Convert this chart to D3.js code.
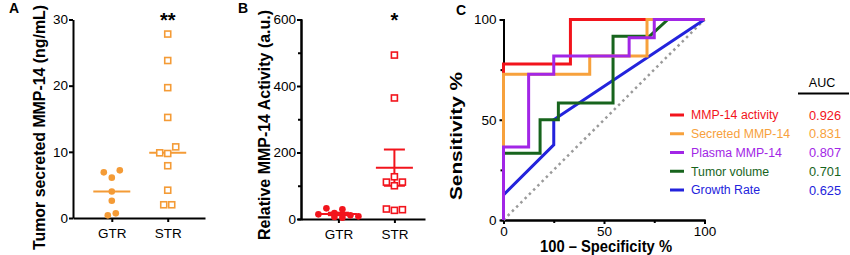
<!DOCTYPE html>
<html>
<head>
<meta charset="utf-8">
<script src="https://cdn.jsdelivr.net/npm/d3@7"></script>
<style>
    body { margin: 0; background: #fff; }
    svg { display: block; font-family: 'Liberation Sans', Arial, sans-serif; }
</style>
</head>
<body>
<svg id="chart" width="850" height="255"></svg>
<script>
// ---- data ----
const groups = ['GTR', 'STR']

// A: tumor secreted MMP-14 (ng/mL)
const secretedGTR = [6.9, 6.1, 7.2, 4.0, 2.6, 0.4, 0.7]
const secretedSTR = [27.8, 23.8, 19.7, 15.2, 9.85, 9.75, 10.75, 7.9, 4.2, 2.0, 2.0]
const secretedTicks = [0, 10, 20, 30]

// B: relative MMP-14 activity (a.u.)
const activityGTR = [14, 32, 18, 29, 11, 8, 6, 4]
const activitySTR = [493, 364, 111, 127, 111, 100, 30, 26, 28]
const activityTicks = [0, 200, 400, 600]
const activityMinor = [100, 300, 500]

// C: ROC curves, [100 - specificity, sensitivity]
const rocActivity = [[0, 0], [0, 77.8], [33.3, 77.8], [33.3, 100], [100, 100]]
const rocSecreted = [[0, 0], [0, 72.7], [42.9, 72.7], [42.9, 81.8], [71.4, 81.8], [71.4, 100], [100, 100]]
const rocPlasma = [[0, 0], [0, 36.4], [12.5, 36.4], [12.5, 72.7], [25, 72.7], [25, 81.8], [62.5, 81.8], [62.5, 90.9], [75, 90.9], [75, 100], [100, 100]]
const rocVolume = [[0, 0], [0, 33.3], [18.2, 33.3], [18.2, 50], [27.3, 50], [27.3, 58.3], [54.5, 58.3], [54.5, 91.7], [72.7, 91.7], [81.8, 100], [100, 100]]
const rocGrowth = [[0, 0], [0, 12.5], [25, 37.5], [25, 50], [100, 100]]
const rocNames = ['MMP-14 activity', 'Secreted MMP-14', 'Plasma MMP-14', 'Tumor volume', 'Growth Rate']
const rocAUC = [0.926, 0.831, 0.807, 0.701, 0.625]
const rocTicks = [0, 50, 100]
const rocMinor = [25, 75]

// ---- styles ----
const rocColors = ['#f2141c', '#f7a13c', '#a226e6', '#17641d', '#2323dc']
const orange = '#f49b36'
const red = '#f2141c'
const fontTick = 13.5

let svg = d3.select('#chart')

// simple scatter layout: points closer than 8px vertically share a row, row is centred
function swarm(values, y, cx) {
    let pts = values.map((v, i) => ({ v: v, i: i, y: y(v) }))
    let rows = []
    pts.slice().sort((a, b) => a.y - b.y).forEach(p => {
        let row = rows[rows.length - 1]
        if (row && p.y - row[0].y < 8) row.push(p)
        else rows.push([p])
    })
    rows.forEach(row => {
        row.sort((a, b) => a.i - b.i)
        row.forEach((p, k) => { p.x = cx + (k - (row.length - 1) / 2) * 8 })
    })
    return pts
}

function styleAxis(g) {
    g.attr('font-family', null).attr('font-size', fontTick)
    g.selectAll('path, line').attr('stroke', '#000').attr('stroke-width', 2)
    g.selectAll('text').attr('fill', '#000')
}

// bold axis title, stretched to the length it has in the figure
function axisTitle(x, y, rot, len, txt) {
    svg.append('text')
        .attr('transform', 'translate(' + x + ',' + y + ') rotate(' + rot + ')')
        .attr('text-anchor', 'middle')
        .attr('textLength', len)
        .attr('lengthAdjust', 'spacingAndGlyphs')
        .style('font-size', '16px')
        .style('font-weight', 'bold')
        .text(txt)
}

function dotPanel(p) {
    let y = d3.scaleLinear().domain([0, p.yMax]).range([p.bottom, p.top])
    let x = d3.scalePoint().domain(groups).range([p.left, p.right]).padding(p.pad).align(p.align)

    if (p.minor) {
        svg.append('g')
            .attr('transform', 'translate(' + p.left + ',0)')
            .call(d3.axisLeft(y).tickValues(p.minor).tickSize(3).tickFormat(''))
            .call(styleAxis)
    }
    svg.append('g')
        .attr('transform', 'translate(' + p.left + ',0)')
        .call(d3.axisLeft(y).tickValues(p.ticks).tickSize(4).tickPadding(1).tickSizeOuter(0))
        .call(styleAxis)
    svg.append('g')
        .attr('transform', 'translate(0,' + p.bottom + ')')
        .call(d3.axisBottom(x).tickSize(4).tickPadding(6).tickSizeOuter(0))
        .call(styleAxis)

    axisTitle(p.labelX, p.labelY, -90, p.labelLen, p.label)

    let data = [p.gtr, p.str]
    data.forEach((vals, gi) => {
        let cx = x(groups[gi])
        let g = svg.append('g')

        // summary line (median or mean +- sem)
        let center, sem = 0
        if (p.summary === 'median') {
            center = d3.median(vals)
        } else {
            center = d3.mean(vals)
            sem = d3.deviation(vals) / Math.sqrt(vals.length)
            g.append('line')
                .attr('x1', cx).attr('x2', cx)
                .attr('y1', y(center - sem)).attr('y2', y(center + sem))
            ;[center - sem, center + sem].forEach(v => {
                g.append('line')
                    .attr('x1', cx - 10.5).attr('x2', cx + 10.5)
                    .attr('y1', y(v)).attr('y2', y(v))
            })
        }
        g.append('line')
            .attr('x1', cx - 18.5).attr('x2', cx + 18.5)
            .attr('y1', y(center)).attr('y2', y(center))
        g.selectAll('line').attr('stroke', p.color).attr('stroke-width', 2)

        let pts = swarm(vals, y, cx)
        if (gi === 0) {
            g.selectAll('circle')
                .data(pts)
                .enter().append('circle')
                .attr('cx', d => d.x)
                .attr('cy', d => d.y)
                .attr('r', 3.3)
                .attr('fill', p.color)
        } else {
            g.selectAll('rect')
                .data(pts)
                .enter().append('rect')
                .attr('x', d => d.x - 3)
                .attr('y', d => d.y - 3)
                .attr('width', 6)
                .attr('height', 6)
                .attr('fill', '#fff')
                .attr('stroke', p.color)
                .attr('stroke-width', 1.6)
        }
    })

    svg.append('text')
        .attr('x', x('STR'))
        .attr('y', 27)
        .attr('text-anchor', 'middle')
        .style('font-size', '20px')
        .style('font-weight', 'bold')
        .text(p.star)

    svg.append('text')
        .attr('x', p.letterX)
        .attr('y', p.letterY)
        .style('font-size', '14px')
        .style('font-weight', 'bold')
        .text(p.letter)
}

dotPanel({
    letter: 'A', letterX: 9, letterY: 13,
    left: 73, right: 205, top: 19.5, bottom: 218, pad: 0.68, align: 0.51,
    yMax: 30, ticks: secretedTicks, minor: null,
    gtr: secretedGTR, str: secretedSTR, summary: 'median', color: orange,
    label: 'Tumor secreted MMP-14 (ng/mL)', labelX: 45, labelY: 127.5, labelLen: 245, star: '**'
})

dotPanel({
    letter: 'B', letterX: 238, letterY: 13,
    left: 301, right: 425, top: 19.5, bottom: 219, pad: 0.607, align: 0.55,
    yMax: 600, ticks: activityTicks, minor: activityMinor,
    gtr: activityGTR, str: activitySTR, summary: 'mean', color: red,
    label: 'Relative MMP-14 Activity (a.u.)', labelX: 269.5, labelY: 125, labelLen: 230, star: '*'
})

// ---- C: ROC ----
let xr = d3.scaleLinear().domain([0, 100]).range([503.5, 704.5])
let yr = d3.scaleLinear().domain([0, 100]).range([220, 19.5])

svg.append('g')
    .attr('transform', 'translate(503.5,0)')
    .call(d3.axisLeft(yr).tickValues(rocMinor).tickSize(3).tickFormat(''))
    .call(styleAxis)
svg.append('g')
    .attr('transform', 'translate(0,220)')
    .call(d3.axisBottom(xr).tickValues(rocMinor).tickSize(3).tickFormat(''))
    .call(styleAxis)
svg.append('g')
    .attr('transform', 'translate(503.5,0)')
    .call(d3.axisLeft(yr).tickValues(rocTicks).tickSize(4).tickPadding(3).tickSizeOuter(0))
    .call(styleAxis)
svg.append('g')
    .attr('transform', 'translate(0,220)')
    .call(d3.axisBottom(xr).tickValues(rocTicks).tickSize(4).tickPadding(2).tickSizeOuter(0))
    .call(styleAxis)

svg.append('line')
    .attr('x1', xr(0)).attr('y1', yr(0))
    .attr('x2', xr(100)).attr('y2', yr(100))
    .attr('stroke', '#9a9a9a')
    .attr('stroke-width', 2.5)
    .attr('stroke-dasharray', '2.5,3.5')

let rocData = [rocActivity, rocSecreted, rocPlasma, rocVolume, rocGrowth]
let line = d3.line().x(d => xr(d[0])).y(d => yr(d[1]))

svg.append('g')
    .selectAll('path')
    .data([4, 3, 0, 1, 2])
    .enter().append('path')
    .attr('d', i => line(rocData[i]))
    .attr('fill', 'none')
    .attr('stroke', i => rocColors[i])
    .attr('stroke-width', 3)

axisTitle(462, 136, -90, 128, 'Sensitivity %')
axisTitle(606, 251.5, 0, 132, '100 \u2013 Specificity %')

svg.append('text')
    .attr('x', 456)
    .attr('y', 15)
    .style('font-size', '14px')
    .style('font-weight', 'bold')
    .text('C')

// legend
svg.append('text')
    .attr('x', 822)
    .attr('y', 87)
    .attr('text-anchor', 'middle')
    .style('font-size', '12.5px')
    .text('AUC')
svg.append('line')
    .attr('x1', 798).attr('x2', 849)
    .attr('y1', 93.5).attr('y2', 93.5)
    .attr('stroke', '#000')
    .attr('stroke-width', 2)

let legend = svg.append('g')
    .selectAll('g')
    .data(rocNames)
    .enter().append('g')
    .attr('transform', (d, i) => 'translate(0,' + (115 + i * 18.75) + ')')

legend.append('line')
    .attr('x1', 670).attr('x2', 684)
    .attr('stroke', (d, i) => rocColors[i])
    .attr('stroke-width', 3)

legend.append('text')
    .attr('x', 691)
    .attr('y', 4.4)
    .style('font-size', '12.3px')
    .attr('fill', (d, i) => rocColors[i])
    .text(d => d)

legend.append('text')
    .attr('x', 841)
    .attr('y', 4.6)
    .attr('text-anchor', 'end')
    .style('font-size', '12.8px')
    .attr('fill', (d, i) => rocColors[i])
    .text((d, i) => rocAUC[i].toFixed(3))
</script>
</body>
</html>
